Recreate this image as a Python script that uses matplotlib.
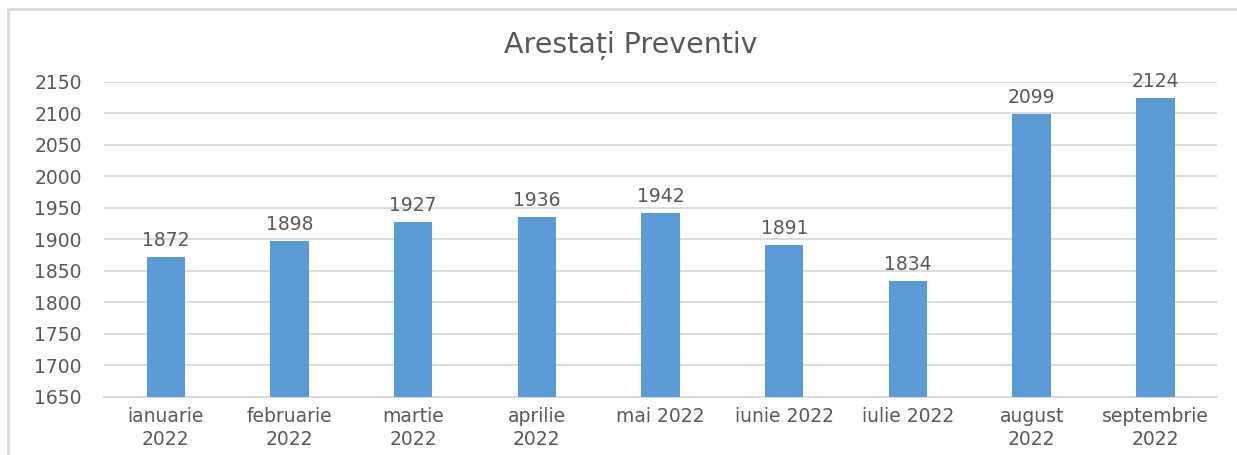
#!/usr/bin/env python3

import matplotlib

matplotlib.use("Agg")
import matplotlib.pyplot as plt
from matplotlib.patches import Rectangle

months = [
    "ianuarie\n2022",
    "februarie\n2022",
    "martie\n2022",
    "aprilie\n2022",
    "mai 2022",
    "iunie 2022",
    "iulie 2022",
    "august\n2022",
    "septembrie\n2022",
]
arrested = [1872, 1898, 1927, 1936, 1942, 1891, 1834, 2099, 2124]
y_ticks = [1650, 1700, 1750, 1800, 1850, 1900, 1950, 2000, 2050, 2100, 2150]

bar_color = "#5B9BD5"
text_color = "#595959"
grid_color = "#D9D9D9"

plt.rcParams["font.family"] = ["DejaVu Sans"]

fig = plt.figure(figsize=(12.37, 4.55), dpi=100)
ax = fig.add_axes([0.084, 0.1275, 0.9, 0.6925])

x = list(range(len(months)))
ax.bar(x, arrested, width=0.31, color=bar_color, zorder=3)
for xi, v in zip(x, arrested):
    ax.annotate(
        str(v),
        (xi, v),
        xytext=(0, 5),
        textcoords="offset points",
        ha="center",
        va="bottom",
        fontsize=13.5,
        color=text_color,
    )

ax.set_ylim(1650, 2150)
ax.set_xlim(-0.5, len(months) - 0.5)
ax.set_yticks(y_ticks)
ax.set_xticks(x)
ax.set_xticklabels(months, linespacing=1.3)
ax.tick_params(axis="both", length=0, labelsize=13.5, labelcolor=text_color)
ax.tick_params(axis="y", pad=16)
ax.tick_params(axis="x", pad=7)

ax.grid(axis="y", color=grid_color, linewidth=1.3, zorder=0)
for side in ["left", "right", "top"]:
    ax.spines[side].set_visible(False)
ax.spines["bottom"].set_color(grid_color)
ax.spines["bottom"].set_linewidth(1.3)

fig.text(0.51, 0.9, "Arestați Preventiv", ha="center", va="center",
         fontsize=20.5, color=text_color)

# chart border, cut off at the bottom and right like the reference
border = Rectangle(
    (8 / 1237, -0.1),
    1.2,
    1.1 - 9 / 455,
    transform=fig.transFigure,
    fill=False,
    edgecolor=grid_color,
    linewidth=2,
    clip_on=False,
)
fig.patches.append(border)

fig.savefig("out.png", dpi=100)
